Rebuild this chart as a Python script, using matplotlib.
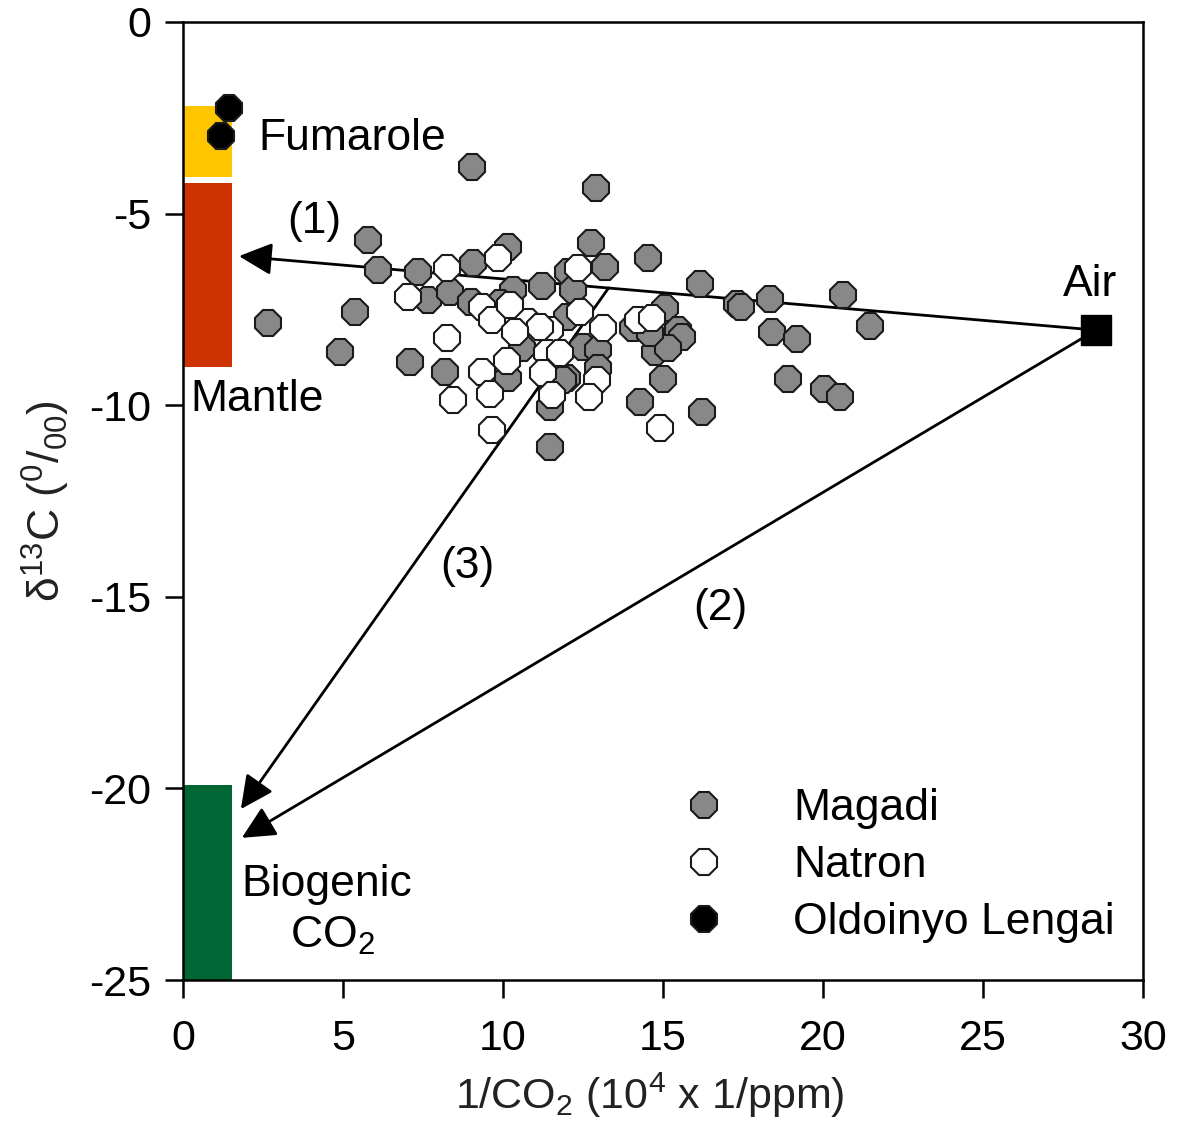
import matplotlib
matplotlib.use("Agg")
import matplotlib.pyplot as plt
from matplotlib.patches import Rectangle

plt.rcParams["font.family"] = ["Liberation Sans", "DejaVu Sans"]
plt.rcParams["mathtext.fontset"] = "custom"
plt.rcParams["mathtext.rm"] = "Liberation Sans"
plt.rcParams["mathtext.it"] = "Liberation Sans:italic"
plt.rcParams["axes.unicode_minus"] = False

# ---- Data -----------------------------------------------------------------
magadi_x = [9.03, 12.91, 5.78, 6.09, 7.34, 9.06, 10.16, 7.66, 8.34, 9.00,
            10.31, 11.22, 12.03, 12.19, 12.75, 13.19, 14.53, 16.16, 17.31, 17.44,
            18.34, 20.63, 21.47, 18.41, 19.19, 18.91, 20.03, 20.53, 15.00, 14.28,
            16.22, 15.06, 15.47, 15.60, 14.75, 15.16, 14.06, 14.59, 2.66, 5.38,
            4.91, 7.09, 8.19, 12.00, 10.59, 12.50, 12.97, 10.16, 12.00, 12.97,
            11.47, 11.47, 11.88, 9.91]
magadi_y = [-3.78, -4.33, -5.69, -6.47, -6.52, -6.29, -5.87, -7.25, -7.05, -7.31,
            -6.99, -6.89, -6.52, -6.99, -5.77, -6.39, -6.16, -6.84, -7.36, -7.44,
            -7.23, -7.12, -7.93, -8.09, -8.27, -9.32, -9.58, -9.79, -9.32, -9.92,
            -10.18, -7.46, -8.04, -8.22, -8.61, -8.51, -7.99, -8.12, -7.85, -7.57,
            -8.61, -8.87, -9.13, -7.70, -8.51, -8.48, -8.56, -9.29, -9.29, -9.03,
            -10.05, -11.09, -9.34, -7.33]

natron_x = [7.03, 8.25, 9.84, 9.34, 9.66, 10.78, 11.47, 12.34, 12.41, 13.13,
            14.22, 14.66, 8.25, 11.38, 11.78, 10.13, 9.34, 11.25, 12.94, 8.44,
            9.59, 11.53, 12.69, 9.66, 14.91, 11.16, 10.38, 10.22]
natron_y = [-7.18, -6.42, -6.16, -7.44, -7.78, -7.83, -8.04, -6.42, -7.57, -7.99,
            -7.78, -7.72, -8.25, -8.64, -8.64, -8.85, -9.13, -9.16, -9.34, -9.86,
            -9.71, -9.73, -9.79, -10.65, -10.60, -7.96, -8.09, -7.39]

lengai_x = [1.44, 1.19]
lengai_y = [-2.25, -2.97]

air_x, air_y = 28.53, -8.04

# end-member ranges: (label, d13C top, d13C bottom, colour)
end_members = [
    ("Fumarole", -2.2, -4.05, "#FFC600"),
    ("Mantle", -4.2, -9.0, "#CC3300"),
    ("Biogenic", -19.9, -25.0, "#006633"),
]
bar_width = 1.52

# mixing lines: (start, tip, label, label position)
mixing = [
    ((air_x, air_y), (1.75, -6.11), "(1)", (4.1, -5.2)),
    ((air_x, air_y), (1.84, -21.29), "(2)", (16.8, -15.3)),
    ((13.3, -6.94), (1.81, -20.54), "(3)", (8.9, -14.2)),
]

FS = 32

# ---- Plot -----------------------------------------------------------------
fig = plt.figure(figsize=(11.78, 11.28), dpi=100)
ax = fig.add_axes([0.1553, 0.1312, 0.815, 0.8493])

for name, top, bottom, color in end_members:
    ax.add_patch(Rectangle((0, bottom), bar_width, top - bottom,
                           facecolor=color, edgecolor="none", zorder=1))

for start, tip, label, pos in mixing:
    ax.annotate("", xy=tip, xytext=start,
                arrowprops=dict(arrowstyle="-|>,head_length=0.45,head_width=0.22",
                                mutation_scale=45, lw=2.0, color="black",
                                shrinkA=0, shrinkB=0),
                zorder=2)
    ax.text(pos[0], pos[1], label, fontsize=FS, ha="center", va="center")

mk = dict(marker="8", ms=19.5, mec="#1a1a1a", mew=1.5, ls="none", zorder=3)
ax.plot(magadi_x, magadi_y, mfc="#888888", label="Magadi", **mk)
ax.plot(natron_x, natron_y, mfc="white", label="Natron", **mk)
ax.plot(lengai_x, lengai_y, mfc="black", label="Oldoinyo Lengai", **mk)
ax.plot([air_x], [air_y], marker="s", ms=21, color="black", ls="none", zorder=4)

ax.text(28.35, -6.84, "Air", fontsize=FS, ha="center", va="center")
ax.text(2.35, -3.03, "Fumarole", fontsize=FS, ha="left", va="center")
ax.text(0.22, -9.86, "Mantle", fontsize=FS, ha="left", va="center")
ax.text(1.84, -22.5, "Biogenic", fontsize=FS, ha="left", va="center")
ax.text(4.66, -23.85, "CO$_2$", fontsize=FS, ha="center", va="center")

ax.set_xlim(0, 30)
ax.set_ylim(-25, 0)
ax.set_xticks([0, 5, 10, 15, 20, 25, 30])
ax.set_yticks([0, -5, -10, -15, -20, -25])
ax.tick_params(direction="out", length=13, width=1.8, labelsize=31)
ax.tick_params(axis="x", pad=15)
ax.tick_params(axis="y", pad=10)
for s in ax.spines.values():
    s.set_linewidth(1.8)

ax.set_xlabel("1/CO$_2$ (10$^4$ x 1/ppm)", fontsize=31, labelpad=14,
              color="#222222")
ax.xaxis.set_label_coords(0.486, -0.095)
ax.set_ylabel("δ$^{13}$C ($^{0}$/$_{00}$)", fontsize=32, labelpad=12,
              color="#222222")

ax.legend(loc="upper left", bbox_to_anchor=(0.52, 0.200), frameon=False,
          fontsize=FS, handlelength=1.0, handletextpad=1.5, labelspacing=0.36,
          borderpad=0, borderaxespad=0, numpoints=1)

fig.savefig("out.png", dpi=100)
